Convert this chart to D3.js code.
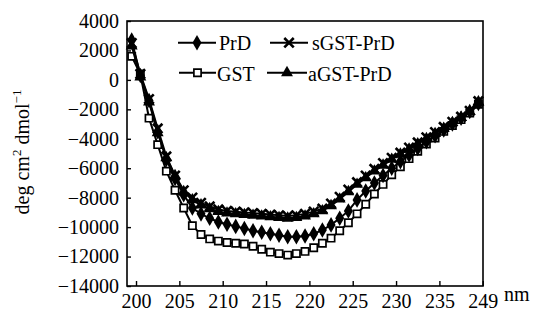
<!DOCTYPE html>
<html>
<head>
<meta charset="utf-8">
<script src="https://cdn.jsdelivr.net/npm/d3@7"></script>
<style>
  body { margin: 0; background: #fff; }
  svg text { font-family: "Liberation Serif", "Times New Roman", serif; fill: #000; }
</style>
</head>
<body>
<div id="chart"></div>
<script>
const width = 534, height = 311;

// wavelength grid (nm), as the points sit on the picture
const wavelengths = d3.range(199.5, 240, 1);

const prd = [2700, 300, -1400, -3500, -5400, -6700, -7800, -8700, -9100, -9400,
  -9650, -9800, -9950, -10100, -10250, -10350, -10450, -10550, -10650, -10650,
  -10600, -10450, -10200, -9850, -9400, -8900, -8150, -7550, -7000, -6500,
  -6000, -5550, -5100, -4650, -4200, -3800, -3400, -3000, -2600, -2150, -1600];

const gst = [1600, 400, -2600, -4400, -6200, -7500, -8700, -9900, -10500, -10800,
  -10950, -11050, -11100, -11150, -11300, -11500, -11700, -11800, -11900, -11800,
  -11650, -11400, -11100, -10750, -10250, -9700, -9100, -8450, -7750, -7100,
  -6450, -5900, -5350, -4850, -4350, -3950, -3500, -3100, -2700, -2250, -1650];

const sgstPrd = [2500, 400, -1300, -3300, -5200, -6500, -7500, -8000, -8350, -8600,
  -8800, -8900, -8950, -9000, -9050, -9100, -9150, -9200, -9250, -9200,
  -9100, -8950, -8750, -8400, -7950, -7450, -6950, -6500, -6050, -5650,
  -5300, -4950, -4600, -4250, -3900, -3550, -3200, -2850, -2500, -2100, -1450];

const agstPrd = [2300, 200, -1500, -3600, -5300, -6500, -7600, -8150, -8500, -8750,
  -8950, -9050, -9100, -9150, -9200, -9250, -9300, -9350, -9400, -9350,
  -9250, -9100, -8900, -8550, -8100, -7600, -7100, -6650, -6200, -5800,
  -5400, -5050, -4700, -4350, -4000, -3650, -3300, -2900, -2550, -2150, -1500];

const xTicks = [200, 205, 210, 215, 220, 225, 230, 235, 240];
const xTickLabels = ["200", "205", "210", "215", "220", "225", "230", "235", "249"];
const yTicks = [4000, 2000, 0, -2000, -4000, -6000, -8000, -10000, -12000, -14000];

const series = [
  { name: "GST", values: gst, marker: "square" },
  { name: "PrD", values: prd, marker: "diamond" },
  { name: "aGST-PrD", values: agstPrd, marker: "triangle" },
  { name: "sGST-PrD", values: sgstPrd, marker: "cross" }
];

const plot = { left: 127, right: 483, top: 21, bottom: 286 };

const x = d3.scaleLinear().domain([198.96, 240.03]).range([plot.left, plot.right]);
const y = d3.scaleLinear().domain([-14000, 4000]).range([plot.bottom, plot.top]);

const svg = d3.select("#chart").append("svg")
  .attr("width", width)
  .attr("height", height);

function drawMarker(g, type) {
  if (type === "square") {
    g.append("path").attr("d", d3.symbol(d3.symbolSquare, 52)())
      .attr("fill", "#fff").attr("stroke", "#000").attr("stroke-width", 1.7);
  } else if (type === "diamond") {
    g.append("path").attr("d", d3.symbol(d3.symbolDiamond, 70)())
      .attr("fill", "#000");
  } else if (type === "triangle") {
    g.append("path").attr("d", d3.symbol(d3.symbolTriangle, 62)())
      .attr("fill", "#000");
  } else {
    g.append("path").attr("d", d3.symbol(d3.symbolX, 60)())
      .attr("fill", "none").attr("stroke", "#000").attr("stroke-width", 2.6);
  }
}

// curves
const line = d3.line()
  .x((d, i) => x(wavelengths[i]))
  .y(d => y(d));

series.forEach(s => {
  svg.append("path")
    .datum(s.values)
    .attr("fill", "none")
    .attr("stroke", "#000")
    .attr("stroke-width", 2)
    .attr("d", line);

  s.values.forEach((v, i) => {
    const g = svg.append("g")
      .attr("transform", `translate(${x(wavelengths[i])},${y(v)})`);
    drawMarker(g, s.marker);
  });
});

// frame
svg.append("rect")
  .attr("x", plot.left).attr("y", plot.top)
  .attr("width", plot.right - plot.left).attr("height", plot.bottom - plot.top)
  .attr("fill", "none").attr("stroke", "#000").attr("stroke-width", 1.6);

// x axis (ticks pointing inward)
const xAxis = svg.append("g")
  .attr("transform", `translate(0,${plot.bottom})`)
  .call(d3.axisBottom(x).tickValues(xTicks).tickSizeInner(-5).tickSizeOuter(0)
    .tickFormat((d, i) => xTickLabels[i]).tickPadding(10));
xAxis.select(".domain").remove();
xAxis.selectAll("line").attr("stroke-width", 1.4);
xAxis.selectAll("text").attr("font-size", 20).attr("dy", "0.62em")
  .style("font-family", "Liberation Serif");

svg.append("text")
  .attr("x", 504).attr("y", 300.5)
  .attr("font-size", 20)
  .text("nm");

// y axis
const yAxis = svg.append("g")
  .attr("transform", `translate(${plot.left},0)`)
  .call(d3.axisLeft(y).tickValues(yTicks).tickSizeInner(-4).tickSizeOuter(0)
    .tickFormat(d3.format("d")).tickPadding(8));
yAxis.select(".domain").remove();
yAxis.selectAll("line").attr("stroke-width", 1.4);
yAxis.selectAll("text").attr("font-size", 20)
  .style("font-family", "Liberation Serif");

// y label
const yLabel = svg.append("text")
  .attr("transform", "translate(29,152) rotate(-90)")
  .attr("text-anchor", "middle")
  .attr("font-size", 20);
yLabel.append("tspan").text("deg cm");
yLabel.append("tspan").attr("font-size", 13).attr("dy", -8).text("2");
yLabel.append("tspan").attr("dy", 8).text(" dmol");
yLabel.append("tspan").attr("font-size", 13).attr("dy", -8).text("−1");

// legend
const legendItems = [
  { name: "PrD", marker: "diamond", x1: 178, x2: 216, tx: 219, cy: 42.7, by: 49.5 },
  { name: "sGST-PrD", marker: "cross", x1: 270, x2: 308, tx: 312, cy: 42.7, by: 49.5 },
  { name: "GST", marker: "square", x1: 179, x2: 216, tx: 217, cy: 72.7, by: 80.5 },
  { name: "aGST-PrD", marker: "triangle", x1: 267, x2: 307, tx: 308, cy: 72.7, by: 80.5 }
];

legendItems.forEach(d => {
  svg.append("line")
    .attr("x1", d.x1).attr("x2", d.x2)
    .attr("y1", d.cy).attr("y2", d.cy)
    .attr("stroke", "#000").attr("stroke-width", 2);
  const g = svg.append("g")
    .attr("transform", `translate(${(d.x1 + d.x2) / 2},${d.cy})`);
  drawMarker(g, d.marker);
  svg.append("text")
    .attr("x", d.tx).attr("y", d.by)
    .attr("font-size", 20)
    .text(d.name);
});
</script>
</body>
</html>
